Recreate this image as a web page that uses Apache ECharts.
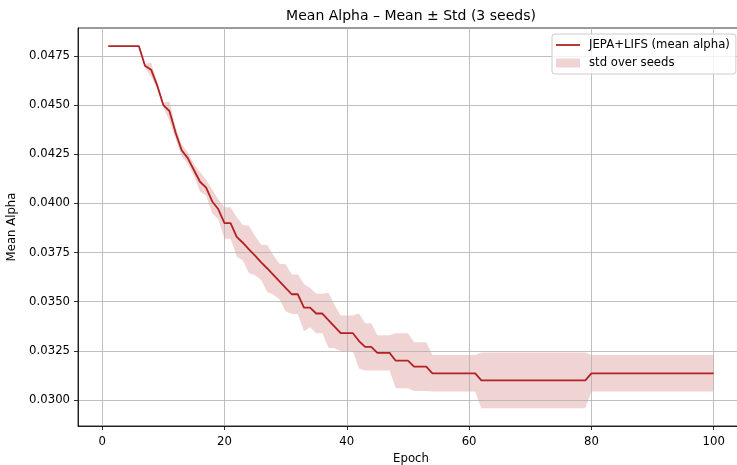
<!DOCTYPE html>
<html>
<head>
<meta charset="utf-8">
<script src="https://cdn.jsdelivr.net/npm/echarts@6/dist/echarts.min.js"></script>
<style>
  html, body { margin: 0; padding: 0; background: #fff; }
  #chart { width: 737px; height: 465px; }
</style>
</head>
<body>
<div id="chart"></div>
<script>
// Training epochs
const epochs = [
  1, 2, 3, 4, 5, 6, 7, 8, 9, 10,
  11, 12, 13, 14, 15, 16, 17, 18, 19, 20,
  21, 22, 23, 24, 25, 26, 27, 28, 29, 30,
  31, 32, 33, 34, 35, 36, 37, 38, 39, 40,
  41, 42, 43, 44, 45, 46, 47, 48, 49, 50,
  51, 52, 53, 54, 55, 56, 57, 58, 59, 60,
  61, 62, 63, 64, 65, 66, 67, 68, 69, 70,
  71, 72, 73, 74, 75, 76, 77, 78, 79, 80,
  81, 82, 83, 84, 85, 86, 87, 88, 89, 90,
  91, 92, 93, 94, 95, 96, 97, 98, 99, 100
];

// Mean alpha across seeds, per epoch
const meanAlpha = [
  0.0480, 0.0480, 0.0480, 0.0480, 0.0480, 0.0480, 0.0470, 0.0468, 0.0460, 0.0450,
  0.0447, 0.0436, 0.0427, 0.0423, 0.0417, 0.0411, 0.0408, 0.0401, 0.0397, 0.0390,
  0.0390, 0.0383, 0.0380, 0.03766, 0.03734, 0.0370, 0.03669, 0.03636, 0.03603, 0.03571,
  0.03538, 0.03538, 0.0347, 0.0347, 0.0344, 0.0344, 0.03406, 0.03373, 0.0334, 0.0334,
  0.0334, 0.0330, 0.0327, 0.0327, 0.0324, 0.0324, 0.0324, 0.0320, 0.0320, 0.0320,
  0.0317, 0.0317, 0.0317, 0.03136, 0.03136, 0.03136, 0.03136, 0.03136, 0.03136, 0.03136,
  0.03136, 0.0310, 0.0310, 0.0310, 0.0310, 0.0310, 0.0310, 0.0310, 0.0310, 0.0310,
  0.0310, 0.0310, 0.0310, 0.0310, 0.0310, 0.0310, 0.0310, 0.0310, 0.0310, 0.03136,
  0.03136, 0.03136, 0.03136, 0.03136, 0.03136, 0.03136, 0.03136, 0.03136, 0.03136, 0.03136,
  0.03136, 0.03136, 0.03136, 0.03136, 0.03136, 0.03136, 0.03136, 0.03136, 0.03136, 0.03136
];

// Standard deviation of alpha across seeds, per epoch
const stdAlpha = [
  0, 0, 0, 0, 0, 0, 0.0001, 0.00035, 0.0002, 0.0001,
  0.0005, 0.0003, 0.0003, 0.0003, 0.0003, 0.0005, 0.0004, 0.0006, 0.0005, 0.0008,
  0.0008, 0.0010, 0.0009, 0.0012, 0.0010, 0.0009, 0.0012, 0.0010, 0.0009, 0.0012,
  0.0010, 0.0010, 0.0012, 0.0010, 0.0010, 0.0010, 0.0014, 0.0011, 0.0009, 0.0009,
  0.0009, 0.0014, 0.0012, 0.0012, 0.0009, 0.0009, 0.0009, 0.0014, 0.0014, 0.0014,
  0.00124, 0.00124, 0.00124, 0.00093, 0.00093, 0.00093, 0.00093, 0.00093, 0.00093, 0.00093,
  0.00093, 0.00142, 0.00142, 0.00142, 0.00142, 0.00142, 0.00142, 0.00142, 0.00142, 0.00142,
  0.00142, 0.00142, 0.00142, 0.00142, 0.00142, 0.00142, 0.00142, 0.00142, 0.00142, 0.00093,
  0.00093, 0.00093, 0.00093, 0.00093, 0.00093, 0.00093, 0.00093, 0.00093, 0.00093, 0.00093,
  0.00093, 0.00093, 0.00093, 0.00093, 0.00093, 0.00093, 0.00093, 0.00093, 0.00093, 0.00093
];

// Axis tick positions
const xTicks = [0, 20, 40, 60, 80, 100];
const yTicks = [0.0300, 0.0325, 0.0350, 0.0375, 0.0400, 0.0425, 0.0450, 0.0475];

const LINE_COLOR = '#b22222';
const BAND_COLOR = 'rgba(178,34,34,0.2)';
const FONT = 'DejaVu Sans';

// Rows: [epoch, mean - std, mean + std]
const bandRows = epochs.map((e, i) => [e, meanAlpha[i] - stdAlpha[i], meanAlpha[i] + stdAlpha[i]]);
const meanLine = epochs.map((e, i) => [e, meanAlpha[i]]);

// Shaded ±std region drawn as one polygon: upper edge forward, lower edge back
function renderBand(params, api) {
  if (params.dataIndex !== 0) return null;
  const upper = bandRows.map(r => api.coord([r[0], r[2]]));
  const lower = bandRows.map(r => api.coord([r[0], r[1]])).reverse();
  return {
    type: 'polygon',
    shape: { points: upper.concat(lower) },
    style: { fill: BAND_COLOR, stroke: null },
    silent: true
  };
}

const chart = echarts.init(document.getElementById('chart'), null, { renderer: 'canvas' });

const axisCommon = {
  type: 'value',
  z: 3,
  nameLocation: 'middle',
  nameTextStyle: { fontFamily: FONT, fontSize: 11.7, color: '#000' },
  axisLine: { show: true, onZero: false, lineStyle: { color: '#000', width: 0.8 } },
  splitLine: { show: true, lineStyle: { color: '#b0b0b0', width: 0.8 } }
};

chart.setOption({
  animation: false,
  backgroundColor: '#fff',
  title: {
    text: 'Mean Alpha \u2013 Mean \u00b1 Std (3 seeds)',
    left: 411,
    top: 9,
    padding: 0,
    textAlign: 'center',
    textStyle: { fontFamily: FONT, fontSize: 14, fontWeight: 'normal', color: '#000' }
  },
  legend: {
    orient: 'vertical',
    left: 552,
    top: 34,
    padding: [5, 6, 5, 4],
    itemWidth: 24,
    itemHeight: 9,
    itemGap: 6,
    backgroundColor: 'rgba(255,255,255,0.8)',
    borderColor: '#cccccc',
    borderWidth: 1,
    borderRadius: 3,
    textStyle: { fontFamily: FONT, fontSize: 11.7, color: '#000', padding: [0, 0, 0, 4] },
    data: [
      {
        name: 'JEPA+LIFS (mean alpha)',
        icon: 'path://M0,0L24,0L24,1.8L0,1.8Z',
        itemStyle: { color: LINE_COLOR, borderWidth: 0 }
      },
      {
        name: 'std over seeds',
        icon: 'rect',
        itemStyle: { color: BAND_COLOR, borderWidth: 0 }
      }
    ]
  },
  grid: {
    left: 78,
    top: 28,
    width: 666,
    height: 398,
    outerBoundsMode: 'none',
    containLabel: false,
    show: true,
    borderColor: '#000',
    borderWidth: 0.8,
    backgroundColor: 'transparent'
  },
  xAxis: Object.assign({}, axisCommon, {
    min: -3.95,
    max: 104.95,
    name: 'Epoch',
    nameGap: 27,
    axisTick: { show: true, length: 4, customValues: xTicks, lineStyle: { color: '#000', width: 0.8 } },
    axisLabel: {
      margin: 10,
      customValues: xTicks,
      fontFamily: FONT,
      fontSize: 11.7,
      color: '#000',
      formatter: v => String(Math.round(v))
    }
  }),
  yAxis: Object.assign({}, axisCommon, {
    min: 0.02868,
    max: 0.04892,
    name: 'Mean Alpha',
    nameGap: 47,
    axisTick: { show: true, length: 4, customValues: yTicks, lineStyle: { color: '#000', width: 0.8 } },
    axisLabel: {
      margin: 8,
      customValues: yTicks,
      fontFamily: FONT,
      fontSize: 11.7,
      color: '#000',
      formatter: v => v.toFixed(4)
    }
  }),
  series: [
    {
      name: 'std over seeds',
      type: 'custom',
      data: bandRows,
      encode: { x: 0, y: [1, 2] },
      renderItem: renderBand,
      color: BAND_COLOR,
      silent: true,
      z: 2
    },
    {
      name: 'JEPA+LIFS (mean alpha)',
      type: 'line',
      data: meanLine,
      symbol: 'none',
      color: LINE_COLOR,
      lineStyle: { color: LINE_COLOR, width: 1.8 },
      z: 5
    }
  ]
});
</script>
</body>
</html>
